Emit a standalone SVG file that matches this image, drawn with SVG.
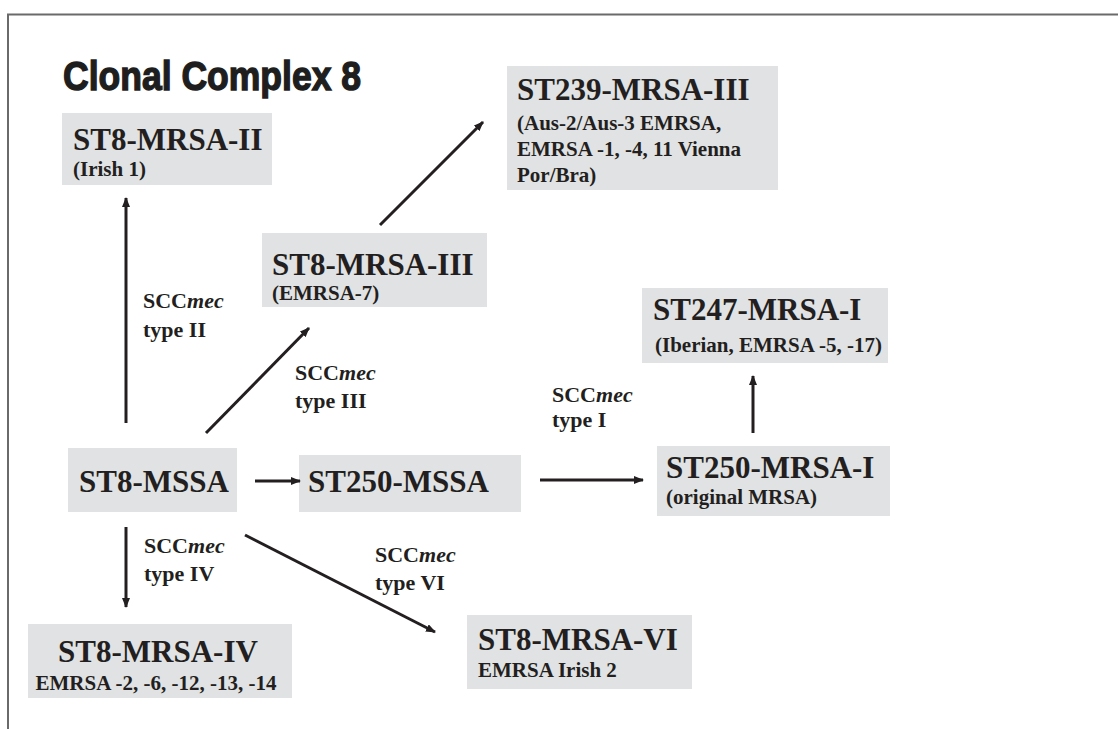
<svg xmlns="http://www.w3.org/2000/svg" width="1118" height="729" viewBox="0 0 1118 729">
  <style>
    .box { fill: #e1e2e4; }
    .name { font-family: "Liberation Serif", "Times New Roman", serif; font-weight: bold; font-size: 31px; fill: #231f20; }
    .sub { font-family: "Liberation Serif", "Times New Roman", serif; font-weight: bold; font-size: 21px; fill: #231f20; }
    .lbl { font-family: "Liberation Serif", "Times New Roman", serif; font-weight: bold; font-size: 22px; fill: #231f20; }
    .it { font-style: italic; }
    .title { font-family: "Liberation Sans", Arial, sans-serif; font-weight: bold; font-size: 41px; fill: #1e1e1e; stroke: #1e1e1e; stroke-width: 1.4; }
    .conn { stroke: #231f20; stroke-width: 3; fill: none; marker-end: url(#head); }
  </style>
  <defs>
    <marker id="head" viewBox="0 0 10 8" refX="9" refY="4" markerWidth="10" markerHeight="8" markerUnits="userSpaceOnUse" orient="auto">
      <path d="M0,0 L10,4 L0,8 Z" fill="#231f20"/>
    </marker>
  </defs>

  <rect width="1118" height="729" fill="#ffffff"/>
  <!-- slide frame -->
  <path d="M8,729 L8,14.5 L1118,14.5" fill="none" stroke="#6a6a6a" stroke-width="2"/>

  <text class="title" x="63" y="90" textLength="298" lengthAdjust="spacingAndGlyphs">Clonal Complex 8</text>

  <g id="st8-mrsa-ii">
    <rect class="box" x="62" y="113" width="210" height="72"/>
    <text class="name" x="73" y="150">ST8-MRSA-II</text>
    <text class="sub" x="73" y="176">(Irish 1)</text>
  </g>

  <g id="st239-mrsa-iii">
    <rect class="box" x="507" y="66" width="271" height="124"/>
    <text class="name" x="517" y="100">ST239-MRSA-III</text>
    <text class="sub" x="517" y="130">(Aus-2/Aus-3 EMRSA,</text>
    <text class="sub" x="517" y="156">EMRSA -1, -4, 11 Vienna</text>
    <text class="sub" x="517" y="182">Por/Bra)</text>
  </g>

  <g id="st8-mrsa-iii">
    <rect class="box" x="262" y="233" width="225" height="74"/>
    <text class="name" x="272" y="275">ST8-MRSA-III</text>
    <text class="sub" x="272" y="300">(EMRSA-7)</text>
  </g>

  <g id="st247-mrsa-i">
    <rect class="box" x="642" y="288" width="246" height="75"/>
    <text class="name" x="653" y="320">ST247-MRSA-I</text>
    <text class="sub" x="655" y="352">(Iberian, EMRSA -5, -17)</text>
  </g>

  <g id="st8-mssa">
    <rect class="box" x="68" y="448" width="169" height="64"/>
    <text class="name" x="79" y="492">ST8-MSSA</text>
  </g>

  <g id="st250-mssa">
    <rect class="box" x="299" y="455" width="222" height="57"/>
    <text class="name" x="308" y="492">ST250-MSSA</text>
  </g>

  <g id="st250-mrsa-i">
    <rect class="box" x="657" y="446" width="233" height="70"/>
    <text class="name" x="666" y="478">ST250-MRSA-I</text>
    <text class="sub" x="666" y="504">(original MRSA)</text>
  </g>

  <g id="st8-mrsa-iv">
    <rect class="box" x="28" y="624" width="264" height="74"/>
    <text class="name" x="158" y="662" text-anchor="middle">ST8-MRSA-IV</text>
    <text class="sub" x="156" y="690" text-anchor="middle">EMRSA -2, -6, -12, -13, -14</text>
  </g>

  <g id="st8-mrsa-vi">
    <rect class="box" x="467" y="615" width="225" height="74"/>
    <text class="name" x="478" y="650">ST8-MRSA-VI</text>
    <text class="sub" x="478" y="677">EMRSA Irish 2</text>
  </g>

  <g id="connectors">
    <line class="conn" x1="126" y1="423" x2="126" y2="198"/>
    <line class="conn" x1="206" y1="433" x2="309" y2="328"/>
    <line class="conn" x1="380" y1="225" x2="483" y2="122"/>
    <line class="conn" x1="255" y1="481" x2="300" y2="481"/>
    <line class="conn" x1="540" y1="480" x2="643" y2="480"/>
    <line class="conn" x1="753" y1="433" x2="753" y2="376"/>
    <line class="conn" x1="126" y1="527" x2="126" y2="607"/>
    <line class="conn" x1="245" y1="535" x2="435" y2="632"/>
  </g>

  <g id="labels">
    <text class="lbl" x="143" y="308">SCC<tspan class="it">mec</tspan></text>
    <text class="lbl" x="143" y="337">type II</text>
    <text class="lbl" x="295" y="380">SCC<tspan class="it">mec</tspan></text>
    <text class="lbl" x="295" y="408">type III</text>
    <text class="lbl" x="552" y="402">SCC<tspan class="it">mec</tspan></text>
    <text class="lbl" x="552" y="427">type I</text>
    <text class="lbl" x="144" y="553">SCC<tspan class="it">mec</tspan></text>
    <text class="lbl" x="144" y="581">type IV</text>
    <text class="lbl" x="375" y="562">SCC<tspan class="it">mec</tspan></text>
    <text class="lbl" x="375" y="590">type VI</text>
  </g>
</svg>
